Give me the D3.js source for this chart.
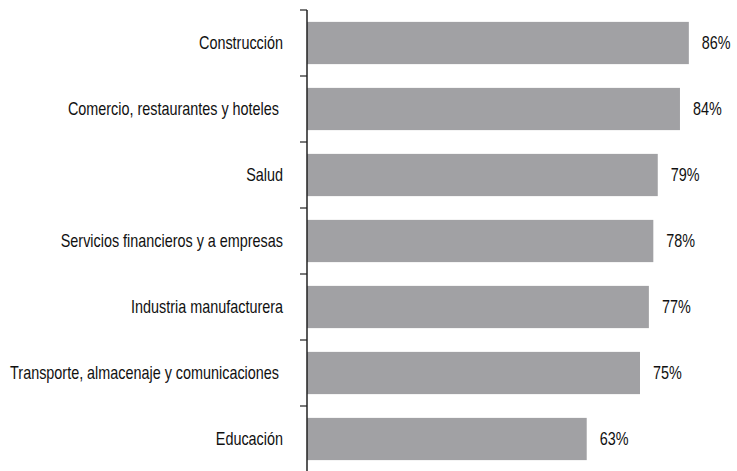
<!DOCTYPE html>
<html>
<head>
<meta charset="utf-8">
<script src="https://cdn.jsdelivr.net/npm/d3@7"></script>
<style>
  html, body { margin: 0; padding: 0; background: #fff; }
  svg { display: block; }
  text { font-family: "Liberation Sans", Arial, sans-serif; fill: #111; white-space: pre; }
</style>
</head>
<body>
<script>
// Sectors and share (%) per sector
const categories = [
  "Construcción",
  "Comercio, restaurantes y hoteles ",
  "Salud",
  "Servicios financieros y a empresas",
  "Industria manufacturera",
  "Transporte, almacenaje y comunicaciones ",
  "Educación"
];
const values = [86, 84, 79, 78, 77, 75, 63];

const width = 737, height = 471;
const axisX = 307;
const condense = 0.8;   // horizontal squeeze for a condensed look
const fontSize = 18;

const svg = d3.select("body").append("svg")
  .attr("width", width)
  .attr("height", height);

const x = d3.scaleLinear().domain([0, 100]).range([axisX, axisX + 444]);
const y = d3.scaleBand().domain(categories).range([10, 472]).paddingInner(0.36).paddingOuter(0.18);

// bars
svg.append("g").selectAll("rect")
  .data(values)
  .join("rect")
  .attr("x", x(0))
  .attr("y", (d, i) => y(categories[i]))
  .attr("width", d => x(d) - x(0))
  .attr("height", y.bandwidth())
  .attr("fill", "#a1a1a4");

// value labels
svg.append("g").selectAll("text")
  .data(values)
  .join("text")
  .attr("transform", (d, i) =>
    `translate(${x(d) + 13},${y(categories[i]) + y.bandwidth() / 2}) scale(${condense},1)`)
  .attr("dy", "0.36em")
  .attr("font-size", fontSize)
  .text(d => d + "%");

// category axis: line plus ticks at band boundaries
const ax = svg.append("g");
ax.append("line")
  .attr("x1", axisX).attr("x2", axisX)
  .attr("y1", 10).attr("y2", height)
  .attr("stroke", "#222").attr("stroke-width", 1.5);

const step = y.step();
const boundaries = d3.range(categories.length).map(i => 10 + i * step);
ax.selectAll("line.tick")
  .data(boundaries)
  .join("line")
  .attr("class", "tick")
  .attr("x1", axisX - 7).attr("x2", axisX)
  .attr("y1", d => d).attr("y2", d => d)
  .attr("stroke", "#222").attr("stroke-width", 1.2);

ax.selectAll("text")
  .data(categories)
  .join("text")
  .attr("transform", d =>
    `translate(${axisX - 24},${y(d) + y.bandwidth() / 2}) scale(${condense},1)`)
  .attr("dy", "0.36em")
  .attr("text-anchor", "end")
  .attr("font-size", fontSize)
  .text(d => d);
</script>
</body>
</html>
